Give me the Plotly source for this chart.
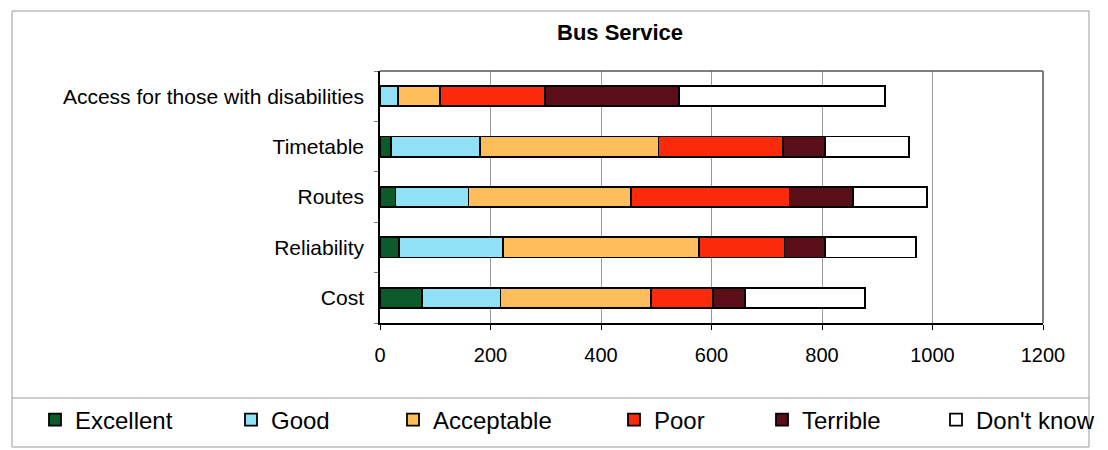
import plotly.graph_objects as go

# ---- data (bottom -> top category order) ----
categories = ["Cost", "Reliability", "Routes", "Timetable", "Access for those with disabilities"]
series_names = ["Excellent", "Good", "Acceptable", "Poor", "Terrible", "Don't know"]
excellent = [76, 35, 28, 20, 0]
good = [142, 187, 132, 161, 33]
acceptable = [273, 355, 295, 323, 75]
poor = [112, 155, 286, 225, 190]
terrible = [57, 74, 115, 77, 243]
dont_know = [218, 164, 134, 152, 373]
x_ticks = [0, 200, 400, 600, 800, 1000, 1200]

values = [excellent, good, acceptable, poor, terrible, dont_know]
colors = ["#0d5a2a", "#90e0f6", "#ffbe5c", "#fa2a0a", "#5a0f18", "#ffffff"]

OFF = 8  # page body margin
W, H = 1100, 442
L, R, T, B = 380 - OFF, 1043 - OFF, 71 - OFF, 323 - OFF  # plot area in figure px
pw, ph = R - L, B - T

def px(x):  # x in screenshot px
    return (x - OFF - L) / pw

def py(y):  # y in screenshot px
    return (B - (y - OFF)) / ph

legend_text_left = [75, 271, 433, 654, 802, 976]
legend_ids = ["legend", "legend2", "legend3", "legend4", "legend5", "legend6"]

fig = go.Figure()
for name, vals, col, lid in zip(series_names, values, colors, legend_ids):
    fig.add_trace(go.Bar(
        y=categories, x=vals, name=name, orientation="h",
        marker=dict(color=col, line=dict(color="#000000", width=1.8)),
        width=0.4, legend=lid,
    ))

font_family = "Liberation Sans, Arial, sans-serif"
layout_legends = {}
for lid, tl in zip(legend_ids, legend_text_left):
    layout_legends[lid] = dict(
        x=px(tl - 40), xanchor="left", y=py(420), yanchor="middle",
        xref="paper", yref="paper", orientation="h",
        bgcolor="rgba(0,0,0,0)", borderwidth=0,
        font=dict(family=font_family, size=24, color="#000000"),
    )

shapes = [
    dict(type="rect", xref="paper", yref="paper",
         x0=px(12), x1=px(1089), y0=py(11), y1=py(447),
         line=dict(color="#9a9a9a", width=1), layer="below"),
    dict(type="line", xref="paper", yref="paper",
         x0=px(12), x1=px(1089), y0=py(398), y1=py(398),
         line=dict(color="#9a9a9a", width=1)),
]

fig.update_layout(
    width=W, height=H,
    barmode="stack",
    paper_bgcolor="#ffffff", plot_bgcolor="#ffffff",
    margin=dict(l=L, r=W - R, t=T, b=H - B, autoexpand=False),
    font=dict(family=font_family, size=20, color="#000000"),
    title=dict(text="<b>Bus Service</b>", x=px(620), xref="paper", xanchor="center",
               y=1 - (32.5 - OFF) / H, yref="container", yanchor="middle",
               font=dict(family=font_family, size=22, color="#000000")),
    xaxis=dict(range=[0, 1200], tickvals=x_ticks, ticktext=[str(v) for v in x_ticks],
               showgrid=True, gridcolor="#9a9a9a", gridwidth=1,
               showline=True, linecolor="#000000", linewidth=1.5, mirror=False,
               ticks="outside", ticklen=5, tickcolor="#000000",
               ticklabelstandoff=8, zeroline=False,
               tickfont=dict(family=font_family, size=20)),
    yaxis=dict(categoryorder="array", categoryarray=categories,
               showline=True, linecolor="#000000", linewidth=1.5,
               ticks="outside", ticklen=4, tickcolor="#777777", tickson="boundaries",
               ticklabelstandoff=10, showgrid=False,
               tickfont=dict(family=font_family, size=21)),
    shapes=shapes,
    showlegend=True,
    **layout_legends,
)
# plot-area frame on top and right
fig.add_shape(type="line", xref="paper", yref="paper", x0=0, x1=1, y0=1, y1=1,
              line=dict(color="#555555", width=1.5))
fig.add_shape(type="line", xref="paper", yref="paper", x0=1, x1=1, y0=0, y1=1,
              line=dict(color="#555555", width=1.5))

fig.write_html("out.html")
